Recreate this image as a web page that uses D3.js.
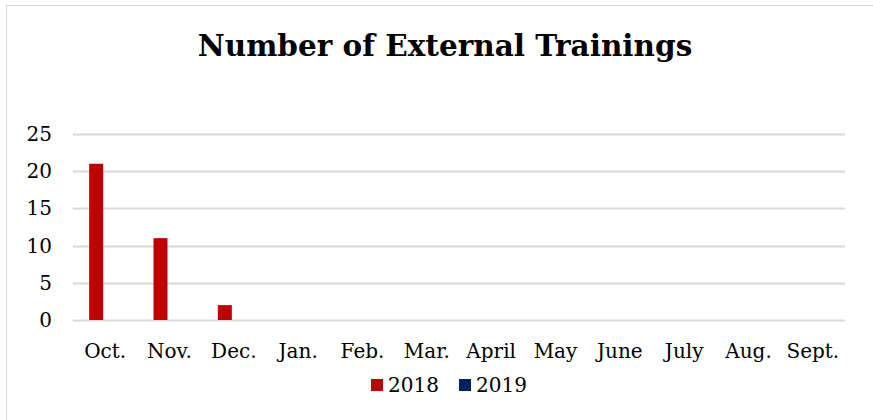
<!DOCTYPE html>
<html>
<head>
<meta charset="utf-8">
<script src="https://d3js.org/d3.v7.min.js"></script>
<style>
  body { margin: 0; background: #fff; }
  svg { display: block; }
</style>
</head>
<body>
<div id="chart"></div>
<script>
const months = ["Oct.", "Nov.", "Dec.", "Jan.", "Feb.", "Mar.", "April", "May", "June", "July", "Aug.", "Sept."];
const values2018 = [21, 11, 2, 0, 0, 0, 0, 0, 0, 0, 0, 0];
const values2019 = [0, 0, 0, 0, 0, 0, 0, 0, 0, 0, 0, 0];
const yTicks = [0, 5, 10, 15, 20, 25];
const seriesNames = ["2018", "2019"];
const seriesColors = ["#C00000", "#002060"];

const width = 873, height = 420;
const margin = { top: 134, right: 28, bottom: 100, left: 73 };
const font = "'DejaVu Serif', serif";

const svg = d3.select("#chart").append("svg")
  .attr("width", width)
  .attr("height", height);

// chart frame
svg.append("rect")
  .attr("x", 6.5).attr("y", 5.5)
  .attr("width", 880).attr("height", 430)
  .attr("fill", "#fff")
  .attr("stroke", "#D9D9D9");

svg.append("text")
  .attr("x", 445).attr("y", 56)
  .attr("text-anchor", "middle")
  .style("font-family", font)
  .style("font-weight", "bold")
  .style("font-size", "29.5px")
  .text("Number of External Trainings");

const x = d3.scaleBand()
  .domain(months)
  .range([margin.left, width - margin.right]);

const y = d3.scaleLinear()
  .domain([0, 25])
  .range([height - margin.bottom, margin.top]);

// gridlines
svg.append("g")
  .selectAll("line")
  .data(yTicks)
  .join("line")
  .attr("x1", margin.left).attr("x2", width - margin.right)
  .attr("y1", d => Math.round(y(d)) + 0.5)
  .attr("y2", d => Math.round(y(d)) + 0.5)
  .attr("stroke", "#D9D9D9")
  .attr("stroke-width", 2);

// y labels
svg.append("g")
  .selectAll("text")
  .data(yTicks)
  .join("text")
  .attr("x", 52)
  .attr("y", d => y(d))
  .attr("dy", "0.35em")
  .attr("text-anchor", "end")
  .style("font-family", font)
  .style("font-size", "20px")
  .text(d => d);

// x labels
svg.append("g")
  .selectAll("text")
  .data(months)
  .join("text")
  .attr("x", d => x(d) + x.bandwidth() / 2)
  .attr("y", 358)
  .attr("text-anchor", "middle")
  .style("font-family", font)
  .style("font-size", "20px")
  .text(d => d);

// bars
const barW = 14;
const series = [values2018, values2019];
series.forEach((vals, i) => {
  svg.append("g")
    .selectAll("rect")
    .data(vals)
    .join("rect")
    .attr("x", (d, j) => x(months[j]) + x.bandwidth() / 2 - 16 + i * (barW + 2))
    .attr("y", d => y(d))
    .attr("width", barW)
    .attr("height", d => y(0) - y(d))
    .attr("fill", seriesColors[i]);
});

// legend
const legend = svg.append("g");
const legendX = [371, 459];
seriesNames.forEach((name, i) => {
  legend.append("rect")
    .attr("x", legendX[i]).attr("y", 379)
    .attr("width", 12).attr("height", 12)
    .attr("fill", seriesColors[i]);
  legend.append("text")
    .attr("x", legendX[i] + 17).attr("y", 392)
    .style("font-family", font)
    .style("font-size", "20px")
    .text(name);
});
</script>
</body>
</html>
